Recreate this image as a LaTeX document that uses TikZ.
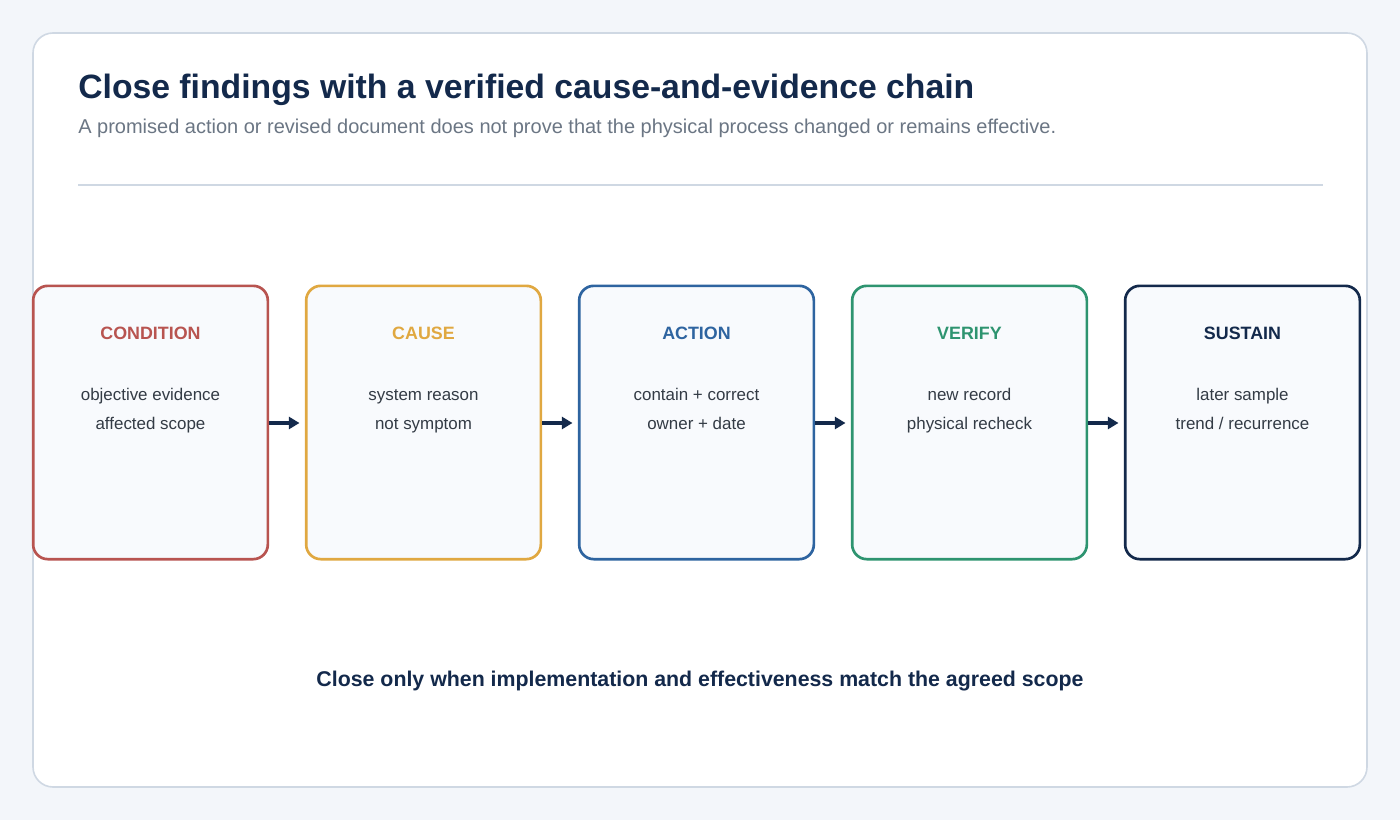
\documentclass[tikz,border=0pt]{standalone}
\usepackage{fontspec}
\setmainfont{Liberation Sans}
\usetikzlibrary{arrows.meta}
\definecolor{pagebg}{HTML}{F3F6FA}
\definecolor{panelline}{HTML}{CFD8E3}
\definecolor{navy}{HTML}{13294B}
\definecolor{subgrey}{HTML}{6B7684}
\definecolor{boxfill}{HTML}{F8FAFD}
\definecolor{bodytext}{HTML}{333B45}
\definecolor{condcol}{HTML}{B85450}
\definecolor{causecol}{HTML}{E0A841}
\definecolor{actcol}{HTML}{2E64A0}
\definecolor{vercol}{HTML}{2E9470}
\definecolor{suscol}{HTML}{13294B}
\tikzset{
  stage/.style={draw=#1, line width=2pt, fill=boxfill, rounded corners=11pt,
    minimum width=176pt, minimum height=205pt, inner sep=0pt},
  stagehead/.style={text=#1, font=\bfseries\fontsize{13.4}{16}\selectfont},
  stagebody/.style={text=bodytext, font=\fontsize{12.7}{15}\selectfont, text height=9pt, text depth=2.5pt},
  link/.style={navy, line width=2.8pt, shorten >=4pt, -{Triangle[length=8pt,width=9pt]}}
}
\begin{document}
\begin{tikzpicture}[x=0.75pt,y=-0.75pt]
    % page and panel
    \fill[pagebg] (0,0) rectangle (1400,820);
    \useasboundingbox (0,0) rectangle (1400,820);
    \draw[panelline, line width=1.2pt, fill=white, rounded corners=15pt] (33,33) rectangle (1367,787);
    % heading
    \node[anchor=base west, text=navy, font=\bfseries\fontsize{25.3}{30}\selectfont, inner sep=0pt] (title) at (78,99) {Close findings with a verified cause-and-evidence chain};
    \node[anchor=base west, text=subgrey, font=\fontsize{15}{18}\selectfont, inner sep=0pt] (subtitle) at (78,134) {A promised action or revised document does not prove that the physical process changed or remains effective.};
    \draw[panelline, line width=1.2pt] (78,185) -- (1323,185);

    % stages
    \foreach \i/\name/\col/\head/\lineA/\lineB in {
        0/cond/condcol/CONDITION/{objective evidence}/{affected scope},
        1/cause/causecol/CAUSE/{system reason}/{not symptom},
        2/act/actcol/ACTION/{contain + correct}/{owner + date},
        3/ver/vercol/VERIFY/{new record}/{physical recheck},
        4/sus/suscol/SUSTAIN/{later sample}/{trend / recurrence}} {
      \node[stage=\col] (\name) at (150.5+273*\i,422.5) {};
      \node[stagehead=\col] (\name-head) at (150.5+273*\i,333) {\head};
      \node[stagebody] (\name-a) at (150.5+273*\i,396) {\lineA};
      \node[stagebody] (\name-b) at (150.5+273*\i,425) {\lineB};
    }

    % links
    \draw[link] (cond.east |- 0,423) -- (cause.west |- 0,423);
    \draw[link] (cause.east |- 0,423) -- (act.west |- 0,423);
    \draw[link] (act.east |- 0,423) -- (ver.west |- 0,423);
    \draw[link] (ver.east |- 0,423) -- (sus.west |- 0,423);

    % closing note
    \node[text=navy, font=\bfseries\fontsize{16}{19}\selectfont] (note) at (700,681) {Close only when implementation and effectiveness match the agreed scope};
\end{tikzpicture}
\end{document}
